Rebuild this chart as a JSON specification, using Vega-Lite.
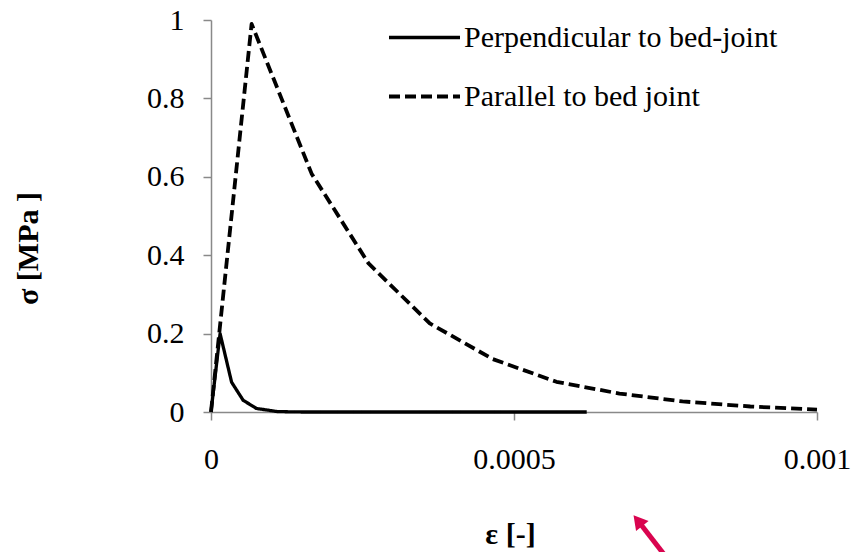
{
  "$schema": "https://vega.github.io/schema/vega-lite/v6.json",
  "width": 606,
  "height": 392,
  "autosize": {"type": "none"},
  "padding": {"left": 211, "top": 20, "right": 38, "bottom": 140},
  "background": "white",
  "config": {"view": {"stroke": null}, "font": "Liberation Serif"},
  "layer": [
    {
      "data": {
        "values": [
          {"series": "Perpendicular to bed-joint", "i": 0, "strain": 0, "stress": 0},
          {"series": "Perpendicular to bed-joint", "i": 1, "strain": 0.000015, "stress": 0.2},
          {"series": "Perpendicular to bed-joint", "i": 2, "strain": 0.000034, "stress": 0.076},
          {"series": "Perpendicular to bed-joint", "i": 3, "strain": 0.000053, "stress": 0.03},
          {"series": "Perpendicular to bed-joint", "i": 4, "strain": 0.000075, "stress": 0.009},
          {"series": "Perpendicular to bed-joint", "i": 5, "strain": 0.00011, "stress": 0.001},
          {"series": "Perpendicular to bed-joint", "i": 6, "strain": 0.00015, "stress": 0},
          {"series": "Perpendicular to bed-joint", "i": 7, "strain": 0.00062, "stress": 0},
          {"series": "Parallel to bed joint", "i": 0, "strain": 0, "stress": 0},
          {"series": "Parallel to bed joint", "i": 1, "strain": 0.000067, "stress": 0.99},
          {"series": "Parallel to bed joint", "i": 2, "strain": 0.000166, "stress": 0.608},
          {"series": "Parallel to bed joint", "i": 3, "strain": 0.00026, "stress": 0.379},
          {"series": "Parallel to bed joint", "i": 4, "strain": 0.000361, "stress": 0.226},
          {"series": "Parallel to bed joint", "i": 5, "strain": 0.000465, "stress": 0.135},
          {"series": "Parallel to bed joint", "i": 6, "strain": 0.00057, "stress": 0.077},
          {"series": "Parallel to bed joint", "i": 7, "strain": 0.000674, "stress": 0.047},
          {"series": "Parallel to bed joint", "i": 8, "strain": 0.000778, "stress": 0.027},
          {"series": "Parallel to bed joint", "i": 9, "strain": 0.00089, "stress": 0.014},
          {"series": "Parallel to bed joint", "i": 10, "strain": 0.001, "stress": 0.006}
        ]
      },
      "mark": {"type": "line", "color": "black", "strokeJoin": "round", "clip": false},
      "encoding": {
        "x": {
          "field": "strain", "type": "quantitative",
          "scale": {"domain": [0, 0.001], "nice": false, "zero": false},
          "axis": {
            "values": [0, 0.0005, 0.001], "format": "~g", "grid": false,
            "domainColor": "#898989", "tickColor": "#898989", "tickSize": 8, "domainWidth": 1.5, "tickWidth": 1.5,
            "labelFont": "Liberation Serif", "labelFontSize": 30, "labelColor": "black", "labelPadding": 24,
            "labelFlush": false, "labelOverlap": false,
            "title": "ε [-]", "titleFont": "Liberation Serif", "titleFontSize": 30, "titleFontWeight": "bold", "titleColor": "black",
            "titleX": 299, "titleY": 122, "titleBaseline": "middle", "titleAlign": "center"
          }
        },
        "y": {
          "field": "stress", "type": "quantitative",
          "scale": {"domain": [0, 1], "nice": false, "zero": false},
          "axis": {
            "values": [0, 0.2, 0.4, 0.6, 0.8, 1], "format": "~g", "grid": false,
            "domainColor": "#898989", "tickColor": "#898989", "tickSize": 8, "domainWidth": 1.5, "tickWidth": 1.5,
            "labelFont": "Liberation Serif", "labelFontSize": 30, "labelColor": "black", "labelPadding": 19,
            "labelFlush": false, "labelOverlap": false,
            "title": "σ [MPa ]", "titleFont": "Liberation Serif", "titleFontSize": 30, "titleFontWeight": "bold", "titleColor": "black",
            "titleX": -183, "titleY": 228, "titleBaseline": "middle", "titleAlign": "center", "titleAngle": -90
          }
        },
        "strokeDash": {
          "field": "series", "type": "nominal",
          "scale": {"domain": ["Perpendicular to bed-joint", "Parallel to bed joint"], "range": [[1, 0], [11, 5]]},
          "legend": {
            "title": null, "orient": "none", "legendX": 176, "legendY": -20, "padding": 0,
            "symbolType": "stroke", "symbolSize": 5041, "symbolStrokeWidth": 2.8, "symbolStrokeColor": "black",
            "labelFont": "Liberation Serif", "labelFontSize": 30, "labelColor": "black", "labelOffset": 2,
            "rowPadding": 6, "labelLimit": 500
          }
        },
        "strokeWidth": {
          "field": "series", "type": "nominal",
          "scale": {"domain": ["Perpendicular to bed-joint", "Parallel to bed joint"], "range": [3.3, 3.8]},
          "legend": null
        },
        "order": {"field": "i", "type": "quantitative"}
      }
    },
    {
      "data": {"values": [{"x1": 0.000749, "y1": -0.366, "x2": 0.0007069, "y2": -0.2819}]},
      "mark": {"type": "rule", "color": "#D9044F", "strokeWidth": 5, "clip": false},
      "encoding": {
        "x": {"field": "x1", "type": "quantitative"},
        "y": {"field": "y1", "type": "quantitative"},
        "x2": {"field": "x2"},
        "y2": {"field": "y2"}
      }
    },
    {
      "data": {"values": [{"x": 0.0007045, "y": -0.277}]},
      "mark": {"type": "point", "shape": "triangle-up", "filled": true, "color": "#D9044F", "size": 260, "angle": 321, "opacity": 1, "clip": false},
      "encoding": {
        "x": {"field": "x", "type": "quantitative"},
        "y": {"field": "y", "type": "quantitative"}
      }
    }
  ]
}
